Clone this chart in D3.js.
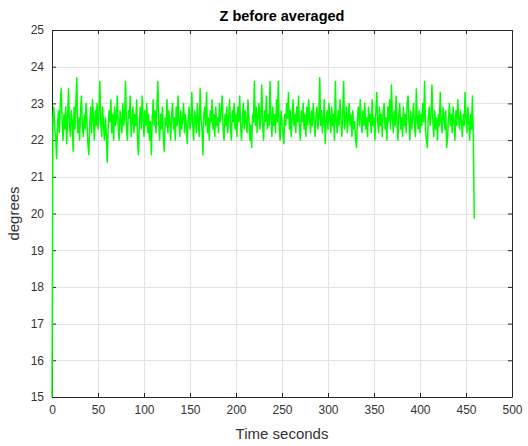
<!DOCTYPE html>
<html>
<head>
<meta charset="utf-8">
<script src="https://cdn.jsdelivr.net/npm/d3@7"></script>
<style>
  html, body { margin: 0; padding: 0; background: #fff; }
  svg { display: block; font-family: "Liberation Sans", Arial, Helvetica, sans-serif; }
</style>
</head>
<body>
<svg id="chart" width="528" height="446"></svg>
<script>
// Z-axis orientation reading, one sample per second (degrees)
const zDegrees = [
  15.0, 22.6, 22.9, 22.3, 22.1, 21.5, 22.4, 22.8, 22.2, 23.0,
  23.4, 22.5, 22.0, 22.7, 22.3, 22.9, 21.9, 22.6, 23.4, 22.4,
  22.1, 22.8, 22.5, 21.7, 22.9, 22.3, 23.1, 23.7, 22.2, 22.6,
  22.0, 22.8, 23.2, 22.4, 22.1, 22.7, 22.3, 23.0, 22.5, 21.9,
  21.6, 22.4, 22.9, 22.2, 23.1, 22.6, 22.0, 22.8, 22.4, 23.0,
  22.3, 22.7, 23.6, 22.5, 22.1, 22.9, 22.4, 22.0, 22.6, 22.2,
  21.4, 22.3, 22.8, 22.5, 23.1, 22.2, 22.7, 22.0, 22.9, 22.4,
  22.6, 23.2, 22.3, 22.0, 22.8, 22.5, 22.2, 23.0, 22.4, 22.7,
  23.6, 22.3, 22.0, 22.8, 22.6, 23.2, 22.1, 22.5, 22.9, 22.2,
  22.7, 22.4, 23.1, 22.0, 21.6, 22.5, 22.9, 22.3, 23.2, 22.6,
  22.1, 22.8, 22.4, 23.0, 22.2, 22.7, 22.0, 22.5, 21.6, 22.6,
  23.1, 22.4, 22.8, 22.2, 22.9, 23.6, 22.5, 22.0, 22.7, 22.3,
  22.9, 22.1, 21.7, 22.6, 22.4, 23.1, 22.2, 22.8, 22.5, 22.0,
  22.7, 23.0, 22.3, 22.6, 22.0, 22.9, 22.4, 23.2, 22.5, 22.1,
  22.8, 22.3, 22.6, 23.0, 22.2, 22.7, 22.4, 21.9, 22.6, 22.9,
  22.3, 22.5, 23.3, 22.4, 22.0, 22.8, 22.6, 22.2, 23.0, 22.5,
  22.1, 23.4, 22.6, 22.3, 21.6, 22.7, 22.9, 22.4, 23.3, 22.2,
  22.6, 22.0, 22.8, 22.5, 23.1, 22.3, 22.7, 22.1, 22.9, 22.4,
  22.6, 22.2, 23.0, 22.5, 22.8, 23.2, 22.3, 22.0, 22.7, 22.4,
  22.9, 22.2, 22.6, 23.1, 22.4, 22.0, 22.8, 22.5, 23.0, 22.3,
  22.7, 22.1, 22.9, 22.5, 23.2, 22.4, 22.0, 22.6, 23.0, 22.3,
  22.8, 22.5, 22.2, 23.1, 22.6, 22.0, 22.4, 21.8, 22.7, 22.5,
  23.6, 22.4, 22.9, 22.2, 22.7, 23.0, 22.3, 22.6, 23.5, 22.4,
  22.0, 22.8, 22.5, 23.2, 22.3, 22.7, 22.4, 23.6, 22.6, 22.1,
  22.9, 22.4, 22.7, 22.2, 23.1, 22.5, 23.6, 22.3, 22.0, 22.8,
  22.5, 22.2, 21.9, 22.7, 22.4, 23.0, 22.6, 23.3, 22.3, 22.8,
  22.1, 22.6, 23.1, 22.4, 22.7, 22.2, 22.9, 22.5, 23.2, 22.3,
  22.0, 22.8, 22.5, 23.0, 22.3, 22.7, 22.1, 22.9, 22.4, 23.1,
  22.6, 22.2, 22.8, 22.4, 23.0, 22.5, 22.1, 22.7, 22.9, 22.3,
  22.6, 23.7, 22.4, 22.8, 22.2, 22.6, 23.1, 21.9, 22.5, 22.8,
  22.3, 23.0, 22.6, 22.2, 22.9, 22.4, 22.7, 22.0, 23.6, 22.5,
  22.2, 22.8, 22.4, 23.1, 22.6, 22.1, 22.7, 23.6, 22.3, 22.5,
  22.9, 22.2, 22.6, 23.0, 22.4, 22.7, 22.1, 22.8, 22.3, 22.5,
  22.0, 21.8, 22.6, 22.9, 22.4, 23.1, 22.5, 22.2, 22.8, 22.4,
  23.0, 22.3, 22.6, 22.1, 22.9, 22.5, 22.7, 22.2, 23.1, 22.4,
  22.6, 22.0, 22.8, 23.3, 22.5, 22.2, 22.9, 22.4, 22.7, 22.1,
  22.8, 23.0, 22.3, 22.6, 22.0, 22.9, 22.5, 23.1, 22.3, 23.5,
  22.6, 22.2, 22.8, 22.4, 23.2, 22.5, 22.0, 22.7, 23.0, 22.3,
  22.6, 22.1, 22.9, 22.4, 22.7, 22.2, 23.0, 23.2, 22.5, 22.0,
  22.8, 22.3, 22.6, 23.0, 22.4, 22.1, 23.4, 22.6, 22.3, 22.8,
  22.2, 22.7, 22.4, 23.0, 22.5, 23.6, 22.3, 22.0, 21.8, 22.6,
  22.9, 22.4, 22.7, 23.5, 22.5, 22.1, 22.8, 22.3, 22.6, 22.0,
  22.7, 22.4, 23.3, 22.5, 22.2, 22.9, 22.6, 22.3, 22.8, 21.8,
  22.1, 22.6, 23.0, 22.4, 22.7, 22.2, 22.9, 22.5, 22.0, 22.8,
  22.4, 23.1, 22.6, 22.3, 22.8, 22.5, 22.1, 22.7, 22.4, 23.3,
  22.6, 22.2, 22.9, 22.5, 22.0, 22.7, 22.3, 23.2, 22.0, 19.86
];
const timeSeconds = zDegrees.map((_, i) => i);

const xTicks = [0, 50, 100, 150, 200, 250, 300, 350, 400, 450, 500];
const yTicks = [15, 16, 17, 18, 19, 20, 21, 22, 23, 24, 25];

const titleText = "Z before averaged";
const xLabelText = "Time seconds";
const yLabelText = "degrees";

const svg = d3.select("#chart");
const margin = { left: 52, right: 16, top: 30, bottom: 49 };
const W = 528, H = 446;
const plotW = W - margin.left - margin.right;
const plotH = H - margin.top - margin.bottom;

const x = d3.scaleLinear().domain([0, 500]).range([margin.left, margin.left + plotW]);
const y = d3.scaleLinear().domain([15, 25]).range([margin.top + plotH, margin.top]);

const axisColor = "#262626";
const gridColor = "#e3e3e3";

// grid
const grid = svg.append("g");
grid.selectAll("line.vx").data(xTicks).join("line")
  .attr("x1", d => Math.round(x(d)) + 0.5).attr("x2", d => Math.round(x(d)) + 0.5)
  .attr("y1", y(15)).attr("y2", y(25))
  .attr("stroke", gridColor).attr("stroke-width", 1);
grid.selectAll("line.hy").data(yTicks).join("line")
  .attr("y1", d => Math.round(y(d)) + 0.5).attr("y2", d => Math.round(y(d)) + 0.5)
  .attr("x1", x(0)).attr("x2", x(500))
  .attr("stroke", gridColor).attr("stroke-width", 1);

// axes: inward ticks on all four sides
const tickLen = 4;
const fmt = d3.format("d");
const bottomAxis = d3.axisBottom(x).tickValues(xTicks).tickSizeInner(-tickLen).tickSizeOuter(0).tickPadding(8).tickFormat(fmt);
const topAxis = d3.axisTop(x).tickValues(xTicks).tickSizeInner(-tickLen).tickSizeOuter(0).tickFormat("");
const leftAxis = d3.axisLeft(y).tickValues(yTicks).tickSizeInner(-tickLen).tickSizeOuter(0).tickPadding(8).tickFormat(fmt);
const rightAxis = d3.axisRight(y).tickValues(yTicks).tickSizeInner(-tickLen).tickSizeOuter(0).tickFormat("");

function style(g) {
  g.select(".domain").attr("stroke", axisColor).attr("stroke-width", 1);
  g.selectAll(".tick line").attr("stroke", axisColor);
  g.selectAll(".tick text").attr("fill", "#333").attr("font-size", 12)
    .attr("font-family", "'Liberation Sans', Arial, sans-serif");
}
svg.append("g").attr("transform", `translate(0,${y(15)})`).call(bottomAxis).call(style);
svg.append("g").attr("transform", `translate(0,${y(25)})`).call(topAxis).call(style);
svg.append("g").attr("transform", `translate(${x(0)},0)`).call(leftAxis).call(style);
svg.append("g").attr("transform", `translate(${x(500)},0)`).call(rightAxis).call(style);

// data line, drawn above the axis box
const line = d3.line().x((d, i) => x(timeSeconds[i])).y(d => y(d));
svg.append("path")
  .datum(zDegrees)
  .attr("d", line)
  .attr("fill", "none")
  .attr("stroke", "#00ff00")
  .attr("stroke-width", 1.5)
  .attr("stroke-linejoin", "round");

// title and axis labels
svg.append("text")
  .attr("x", (x(0) + x(500)) / 2).attr("y", 21)
  .attr("text-anchor", "middle").attr("font-size", 14.5).attr("font-weight", "bold")
  .attr("fill", "#000").text(titleText);
svg.append("text")
  .attr("x", (x(0) + x(500)) / 2).attr("y", 439)
  .attr("text-anchor", "middle").attr("font-size", 15)
  .attr("fill", "#333").text(xLabelText);
svg.append("text")
  .attr("transform", `translate(19,${(y(15) + y(25)) / 2}) rotate(-90)`)
  .attr("text-anchor", "middle").attr("font-size", 15)
  .attr("fill", "#333").text(yLabelText);
</script>
</body>
</html>
